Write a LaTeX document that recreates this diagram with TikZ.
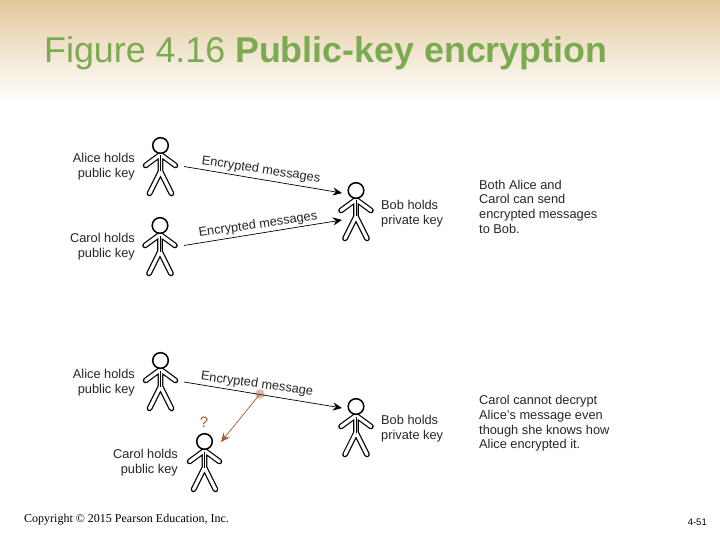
\documentclass[tikz,border=0pt]{standalone}
\usepackage{fontspec}
\setmainfont{Liberation Sans}
\newfontfamily\copyfont{Liberation Serif}
\usetikzlibrary{arrows.meta,positioning,calc}
\definecolor{titlegreen}{HTML}{7BAA50}
\definecolor{topsand}{HTML}{E2C89B}
\definecolor{askbrown}{HTML}{A5592F}

\begin{document}
\begin{tikzpicture}[
    x=1pt, y=-1pt,
    who/.style={align=right, anchor=east, font=\fontsize{12.8}{15}\selectfont, text=black!85, inner sep=0pt},
    note/.style={align=left, anchor=west, font=\fontsize{12.8}{14.7}\selectfont, text=black!85, inner sep=0pt},
    msg/.style={font=\fontsize{12.8}{14}\selectfont, text=black!85, inner sep=0pt},
    arr/.style={-{Stealth[length=9pt,width=8pt]}, line width=0.7pt, draw=black},
    arrbrown/.style={-{Stealth[length=9pt,width=8pt]}, line width=0.7pt, draw=askbrown},
    person/.pic={
        \draw [line width=1.2pt, double=white, double distance=3.2pt, line cap=round, line join=round]
            (-15,20) -- (0,9) -- (15,20)
            (0,9) -- (0,26)
            (-11,48) -- (0,26) -- (11,48);
        \draw [line width=0.9pt] (0,10) -- (0,26);
        \draw [line width=1.5pt, fill=white] (0,0) circle [radius=7.8];
    }
]
    \useasboundingbox (0,0) rectangle (720,540);
    \shade [top color=topsand, bottom color=white, middle color=topsand!45] (0,0) rectangle (720,105);

    \node [anchor=base west, inner sep=0pt, text=titlegreen, font=\fontsize{35.8}{40}\selectfont] (title) at (44,63)
        {Figure 4.16 \textbf{Public-key encryption}};

    % upper case
    \pic at (160.5,145.5) {person};
    \pic at (160,225.5) {person};
    \pic at (356,190.5) {person};
    \node [who] (alicetxt) at (135,167) {Alice holds\\public key};
    \node [who] (caroltxt) at (135,247) {Carol holds\\public key};
    \node [who, align=left, anchor=west] (bobtxt) at (381,213.5) {Bob holds\\private key};
    \node [note] (bothtxt) at (479,206.5) {Both Alice and\\Carol can send\\encrypted messages\\to Bob.};

    \coordinate (aliceout) at (184,166.5);
    \coordinate (carolout) at (184,245.5);
    \coordinate (bobina) at (342,193);
    \coordinate (bobinb) at (342,220);
    \draw [arr] (aliceout) -- (bobina);
    \draw [arr] (carolout) -- (bobinb);
    \node [msg, rotate=-8.5] (msga) at (261,170) {Encrypted messages};
    \node [msg, rotate=8] (msgb) at (258,225) {Encrypted messages};

    % lower case
    \pic at (160.5,360.5) {person};
    \pic at (356,406.5) {person};
    \pic at (204.5,441.5) {person};
    \node [who] (alicetxt2) at (135,383) {Alice holds\\public key};
    \node [who] (caroltxt2) at (178,463) {Carol holds\\public key};
    \node [who, align=left, anchor=west] (bobtxt2) at (381,429) {Bob holds\\private key};
    \node [note] (nottxt) at (479,423.5) {Carol cannot decrypt\\Alice’s message even\\though she knows how\\Alice encrypted it.};

    \coordinate (aliceout2) at (184,382);
    \coordinate (bobin2) at (342,408);
    \coordinate (tap) at (260,394);
    \coordinate (carolin2) at (221,442);
    \fill [askbrown!40] (tap) circle [radius=4.8];
    \draw [arr] (aliceout2) -- (bobin2);
    \draw [arrbrown] (tap) -- (carolin2);
    \node [msg, rotate=-8] (msgc) at (257,384.5) {Encrypted message};
    \node [inner sep=0pt, text=askbrown, font=\fontsize{15}{16}\selectfont] (ask) at (204,422) {?};

    \node [anchor=base west, inner sep=0pt, font=\copyfont\fontsize{12}{14}\selectfont] (copy) at (24,522)
        {Copyright © 2015 Pearson Education, Inc.};
    \node [anchor=base east, inner sep=0pt, font=\fontsize{9.5}{11}\selectfont] (page) at (707,525) {4-51};
\end{tikzpicture}
\end{document}
